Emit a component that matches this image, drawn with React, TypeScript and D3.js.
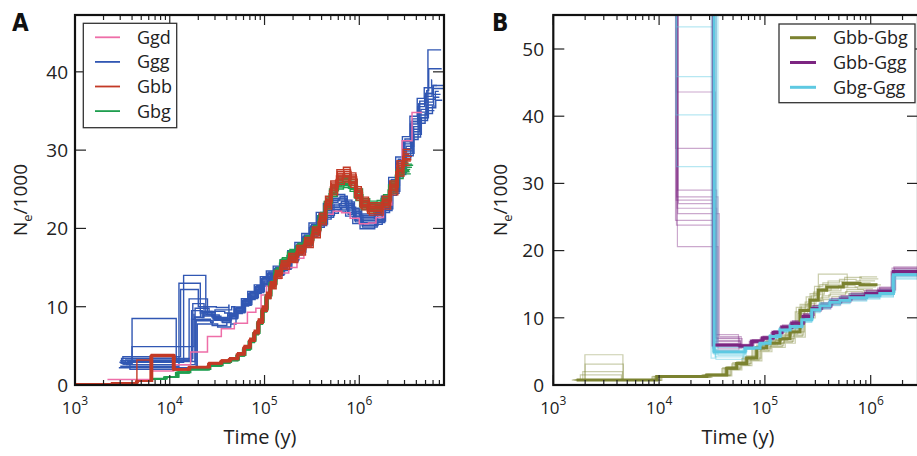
import React from 'react';
import * as d3 from 'd3';

type Pt = [number, number];
type Rep = { vf: number; tf: number; end: number; patches?: Pt[][] };

// ---------------- Panel A data ----------------
const seriesA = ['Ggd', 'Ggg', 'Gbb', 'Gbg'];
const colorsA = ['#ee6ea8', '#3157b3', '#c33a26', '#1f9e4f'];

const ggdMain: Pt[] = [
  [2.2e3, 0.7], [6.3e3, 1.8], [1.1e4, 2.6], [1.66e4, 4.2], [2.5e4, 6.2], [3.5e4, 7.2],
  [4.8e4, 7.9], [6.6e4, 9.3], [8.1e4, 9.8], [9.2e4, 11.5], [1.05e5, 12.6], [1.25e5, 13.6],
  [1.5e5, 14.3], [1.8e5, 15.0], [2.2e5, 16.2], [2.6e5, 17.6], [3.1e5, 19.2], [3.7e5, 20.8],
  [4.4e5, 21.8], [5.3e5, 22.2], [6.5e5, 22.0], [8.0e5, 21.3], [1.0e6, 20.6], [1.25e6, 20.7],
  [1.5e6, 21.4], [1.8e6, 23.0], [2.2e6, 25.6], [2.5e6, 28.0], [2.83e6, 31.2], [3.6e6, 34.8],
];
const ggdEnd = 4.6e6;

const gggMain: Pt[] = [
  [3.1e3, 2.8], [1.75e4, 9.0], [2.2e4, 9.3], [2.9e4, 8.6], [3.5e4, 8.3], [4.3e4, 8.8],
  [5.0e4, 9.6], [6.0e4, 10.6], [7.0e4, 11.5], [8.2e4, 12.3], [9.5e4, 13.3], [1.1e5, 14.0],
  [1.3e5, 14.6], [1.55e5, 15.4], [1.85e5, 16.5], [2.2e5, 17.5], [2.6e5, 18.6], [3.1e5, 19.9],
  [3.7e5, 21.2], [4.4e5, 22.3], [5.2e5, 23.1], [6.2e5, 23.4], [7.4e5, 22.7], [8.8e5, 21.7],
  [1.05e6, 21.0], [1.25e6, 21.0], [1.5e6, 21.6], [1.8e6, 23.2], [2.15e6, 25.5], [2.55e6, 28.0],
  [3.0e6, 30.5], [3.6e6, 33.0], [4.3e6, 35.2], [5.1e6, 36.5], [6.1e6, 37.5],
];
const gggReps: Rep[] = [
  { vf: 0.95, tf: 0.97, end: 6.4e6, patches: [[[3.0e3, 2.4], [1.25e4, 13.0], [2.1e4, 9.2], [3.0e4, 9.6], [4.5e4, 10.0]]] },
  { vf: 0.97, tf: 1.02, end: 7.3e6, patches: [[[3.3e3, 2.9], [1.4e4, 14.0], [2.4e4, 9.0]], [[5.3e6, 42.8], [7.2e6, 42.8]]] },
  { vf: 0.99, tf: 0.99, end: 7.2e6, patches: [[[3.1e3, 3.4], [1.75e4, 10.4], [2.3e4, 8.8]]] },
  { vf: 1.0, tf: 1.04, end: 6.9e6, patches: [[[4.0e3, 8.5], [1.17e4, 3.2], [1.7e4, 9.5], [2.2e4, 8.6]]] },
  { vf: 1.01, tf: 0.96, end: 7.8e6, patches: [[[3.6e3, 3.0], [1.85e4, 8.7]]] },
  { vf: 1.03, tf: 1.01, end: 7.4e6, patches: [[[2.9e3, 2.2], [1.9e4, 8.2], [2.8e4, 7.6], [4.0e4, 8.0]], [[5.4e6, 40.4], [7.3e6, 40.4]]] },
  { vf: 0.96, tf: 1.03, end: 6.2e6, patches: [[[4.0e3, 4.9], [1.8e4, 9.0]]] },
  { vf: 1.02, tf: 0.98, end: 7.7e6, patches: [[[3.2e3, 3.6], [1.3e4, 12.2], [2.0e4, 10.0], [3.1e4, 9.9], [4.2e4, 10.2]]] },
  { vf: 0.98, tf: 1.0, end: 7.0e6, patches: [[[3.8e3, 2.0], [1.95e4, 7.8], [3.2e4, 7.4], [4.4e4, 7.8]]] },
  { vf: 1.04, tf: 0.95, end: 5.8e6, patches: [[[3.4e3, 3.2], [1.6e4, 11.0], [2.5e4, 9.0]]] },
  { vf: 0.97, tf: 1.05, end: 7.5e6, patches: [[[3.5e3, 2.6], [1.85e4, 9.8], [2.6e4, 9.4], [3.8e4, 9.2]]] },
  { vf: 1.02, tf: 0.99, end: 6.6e6, patches: [[[3.0e3, 3.1], [1.7e4, 8.4], [2.7e4, 8.0]]] },
];

const gbbMain: Pt[] = [
  [1.0e3, 0.1], [2.5e3, 0.3], [4.5e3, 0.5], [6.4e3, 3.8], [1.1e4, 2.0], [1.6e4, 2.3],
  [2.6e4, 2.8], [3.5e4, 3.1], [4.3e4, 3.4], [5.2e4, 4.0], [6.1e4, 4.9], [7.0e4, 5.8],
  [7.8e4, 6.8], [8.6e4, 8.2], [9.5e4, 9.8], [1.05e5, 11.5], [1.15e5, 12.8], [1.3e5, 14.2],
  [1.5e5, 15.4], [1.8e5, 16.3], [2.2e5, 17.3], [2.65e5, 18.3], [3.2e5, 19.6], [3.8e5, 21.3],
  [4.4e5, 23.4], [5.0e5, 25.3], [5.8e5, 26.7], [6.8e5, 27.0], [8.0e5, 26.3], [9.2e5, 24.6],
  [1.05e6, 23.3], [1.25e6, 22.6], [1.5e6, 22.6], [1.75e6, 23.4], [2.1e6, 25.3], [2.5e6, 27.8],
  [2.9e6, 29.2],
];
const gbbReps: Rep[] = [
  { vf: 0.97, tf: 0.98, end: 3.3e6 },
  { vf: 0.99, tf: 1.0, end: 3.5e6 },
  { vf: 1.01, tf: 1.02, end: 3.4e6 },
  { vf: 1.0, tf: 0.99, end: 3.6e6, patches: [[[1.0e3, 0.1], [4.5e3, 3.2], [6.3e3, 3.8]]] },
  { vf: 1.02, tf: 1.01, end: 3.2e6 },
  { vf: 0.98, tf: 0.97, end: 3.5e6 },
  { vf: 1.0, tf: 1.03, end: 3.3e6 },
  { vf: 1.03, tf: 1.0, end: 3.45e6 },
  { vf: 0.985, tf: 0.99, end: 3.55e6 },
  { vf: 1.01, tf: 1.01, end: 3.35e6 },
  { vf: 0.96, tf: 1.02, end: 3.4e6 },
];

const gbgMain: Pt[] = [
  [6.5e3, 0.8], [9.0e3, 1.0], [1.2e4, 1.6], [1.6e4, 2.0], [2.6e4, 2.5], [3.5e4, 2.9],
  [4.3e4, 3.2], [5.2e4, 3.8], [6.1e4, 4.6], [7.0e4, 5.6], [7.8e4, 6.6], [8.6e4, 8.0],
  [9.5e4, 9.6], [1.05e5, 11.4], [1.15e5, 12.9], [1.3e5, 14.5], [1.5e5, 15.8], [1.8e5, 16.8],
  [2.2e5, 17.6], [2.65e5, 18.5], [3.2e5, 19.8], [3.8e5, 21.4], [4.4e5, 23.2], [5.0e5, 24.8],
  [5.8e5, 25.8], [6.8e5, 26.0], [8.0e5, 25.5], [9.2e5, 24.3], [1.05e6, 23.1], [1.25e6, 22.8],
  [1.5e6, 22.9], [1.75e6, 23.6], [2.1e6, 25.3], [2.5e6, 27.2], [2.9e6, 27.8],
];
const gbgReps: Rep[] = [
  { vf: 0.98, tf: 1.01, end: 3.4e6 },
  { vf: 1.0, tf: 0.98, end: 3.6e6 },
  { vf: 1.02, tf: 1.02, end: 3.3e6 },
  { vf: 0.97, tf: 1.0, end: 3.5e6 },
  { vf: 1.01, tf: 0.97, end: 3.7e6 },
  { vf: 1.03, tf: 1.03, end: 3.25e6 },
  { vf: 0.99, tf: 0.99, end: 3.45e6 },
  { vf: 1.0, tf: 1.04, end: 3.55e6 },
  { vf: 0.985, tf: 0.96, end: 3.35e6 },
  { vf: 1.015, tf: 1.0, end: 3.6e6 },
];

// ---------------- Panel B data ----------------
const seriesB = ['Gbb-Gbg', 'Gbb-Ggg', 'Gbg-Ggg'];
const colorsB = ['#7b8230', '#7c2581', '#5ec9e2'];

const oliveMain: Pt[] = [
  [1.66e3, 0.75], [9.5e3, 1.25], [2.82e4, 1.5], [4.35e4, 2.5], [5.41e4, 3.2], [6.73e4, 4.0],
  [8.36e4, 5.5], [1.04e5, 6.2], [1.39e5, 6.9], [1.73e5, 7.9], [2.15e5, 11.1], [2.67e5, 12.6],
  [3.2e5, 14.1], [3.84e5, 14.6], [5.51e5, 15.1], [7.92e5, 14.9],
];
const oliveEnd = 1.16e6;
const oliveReps: Rep[] = [
  { vf: 0.92, tf: 1.05, end: 1.2e6, patches: [[[1.99e3, 4.5], [4.55e3, 0.8]]] },
  { vf: 0.96, tf: 0.95, end: 1.05e6, patches: [[[2.0e3, 3.1], [4.6e3, 0.8]]] },
  { vf: 1.0, tf: 1.1, end: 1.25e6, patches: [[[1.9e3, 2.0], [4.5e3, 0.7]]] },
  { vf: 1.04, tf: 0.92, end: 1.1e6, patches: [[[1.8e3, 1.5], [4.4e3, 0.8]]] },
  { vf: 1.08, tf: 1.0, end: 1.15e6, patches: [[[3.2e5, 16.5], [6.0e5, 15.2]]] },
  { vf: 0.94, tf: 1.08, end: 1.2e6 },
  { vf: 1.02, tf: 0.97, end: 1.0e6 },
  { vf: 1.06, tf: 1.03, end: 1.18e6 },
  { vf: 0.98, tf: 0.9, end: 1.12e6 },
  { vf: 0.9, tf: 1.12, end: 1.22e6 },
];

const purpleMain: Pt[] = [
  [1.5e3, 150], [3.25e4, 5.95], [5.8e4, 5.8], [7.5e4, 6.5], [9.5e4, 7.0], [1.2e5, 7.8],
  [1.45e5, 8.6], [1.8e5, 9.2], [2.3e5, 10.2], [2.8e5, 11.4], [3.4e5, 11.8], [4.2e5, 12.4],
  [5.2e5, 12.8], [6.5e5, 13.2], [9.0e5, 13.6], [1.2e6, 14.0], [1.64e6, 16.9],
];
const purpleEnd = 4e6;
const purpleReps: Rep[] = [
  { vf: 1.03, tf: 0.97, end: 4e6, patches: [[[1.5e3, 150], [1.46e4, 43.6], [3.4e4, 7.5]]] },
  { vf: 0.98, tf: 1.02, end: 4e6, patches: [[[1.5e3, 150], [1.44e4, 35.2], [3.3e4, 6.8]]] },
  { vf: 1.0, tf: 0.95, end: 4e6, patches: [[[1.5e3, 150], [1.5e4, 29.0], [3.5e4, 6.2]]] },
  { vf: 1.01, tf: 1.04, end: 4e6, patches: [[[1.5e3, 150], [1.47e4, 28.0], [3.6e4, 5.5]]] },
  { vf: 0.97, tf: 0.99, end: 4e6, patches: [[[1.5e3, 150], [1.45e4, 27.5], [3.4e4, 7.0]]] },
  { vf: 1.04, tf: 1.01, end: 4e6, patches: [[[1.5e3, 150], [1.52e4, 27.0], [3.3e4, 6.5]]] },
  { vf: 0.99, tf: 0.96, end: 4e6, patches: [[[1.5e3, 150], [1.48e4, 26.3], [3.5e4, 5.8]]] },
  { vf: 1.02, tf: 1.03, end: 4e6, patches: [[[1.5e3, 150], [1.5e4, 25.5], [3.7e4, 7.2]]] },
  { vf: 0.96, tf: 1.0, end: 4e6, patches: [[[1.5e3, 150], [1.43e4, 24.5], [3.4e4, 6.0]]] },
  { vf: 1.0, tf: 0.98, end: 4e6, patches: [[[1.5e3, 150], [1.46e4, 23.8], [3.3e4, 5.2]]] },
  { vf: 1.03, tf: 1.02, end: 4e6, patches: [[[1.5e3, 150], [1.49e4, 20.6], [3.6e4, 6.6]]] },
  { vf: 0.98, tf: 1.0, end: 4e6, patches: [[[1.5e3, 150], [3.2e4, 5.5]]] },
  { vf: 1.01, tf: 1.05, end: 4e6, patches: [[[1.5e3, 150], [3.45e4, 6.9]]] },
];

const cyanMain: Pt[] = [
  [1.5e3, 150], [3.3e4, 4.9], [6.5e4, 5.5], [9.0e4, 6.2], [1.12e5, 7.2], [1.39e5, 8.2],
  [1.73e5, 8.7], [2.23e5, 9.7], [2.77e5, 11.2], [3.32e5, 11.8], [4.13e5, 12.3], [5.13e5, 12.6],
  [6.37e5, 13.0], [9.16e5, 13.3], [1.22e6, 13.6], [1.64e6, 16.4],
];
const cyanEnd = 4e6;
const cyanReps: Rep[] = [
  { vf: 0.97, tf: 1.0, end: 4e6, patches: [[[1.5e3, 150], [1.45e4, 53.3], [3.3e4, 4.6]]] },
  { vf: 1.03, tf: 0.98, end: 4e6, patches: [[[1.5e3, 150], [1.47e4, 45.9], [3.35e4, 5.2]]] },
  { vf: 1.0, tf: 1.02, end: 4e6, patches: [[[1.5e3, 150], [1.44e4, 40.2], [3.4e4, 4.2]]] },
  { vf: 0.98, tf: 0.97, end: 4e6, patches: [[[1.5e3, 150], [1.46e4, 32.5], [3.25e4, 5.6]]] },
  { vf: 1.02, tf: 1.03, end: 4e6, patches: [[[1.5e3, 150], [3.1e4, 4.0]]] },
  { vf: 0.96, tf: 1.0, end: 4e6, patches: [[[1.5e3, 150], [3.5e4, 5.8]]] },
  { vf: 1.04, tf: 0.99, end: 4e6, patches: [[[1.5e3, 150], [3.6e4, 4.4]]] },
  { vf: 1.0, tf: 1.01, end: 4e6, patches: [[[1.5e3, 150], [3.2e4, 5.0]]] },
  { vf: 0.99, tf: 0.96, end: 4e6, patches: [[[1.5e3, 150], [3.45e4, 3.8]]] },
  { vf: 1.01, tf: 1.04, end: 4e6, patches: [[[1.5e3, 150], [3.3e4, 5.4]]] },
];

// ---------------- axes ----------------
const yTicksA = [0, 10, 20, 30, 40];
const yTicksB = [0, 10, 20, 30, 40, 50];
const xDomainA: [number, number] = [1e3, 7.83e6];
const xDomainB: [number, number] = [1e3, 2.8e6];
const yMaxA = 47.26;
const yMaxB = 55.06;

const FONT = "'Open Sans', 'DejaVu Sans', sans-serif";
const INK = '#222';

function buildRep(main: Pt[], rep: Rep): Pt[] {
  let pts: Pt[] = main.map(([t, v]) => [t * rep.tf, v * rep.vf] as Pt);
  (rep.patches || []).forEach((p) => {
    const a = p[0][0];
    const b = p[p.length - 1][0];
    pts = pts.filter(([t]) => t < a || t > b).concat(p);
  });
  pts.sort((m, n) => m[0] - n[0]);
  pts = pts.filter(([t]) => t < rep.end);
  return pts.concat([[rep.end, pts[pts.length - 1][1]]]);
}
function withEnd(main: Pt[], end: number): Pt[] {
  return main.concat([[end, main[main.length - 1][1]]]);
}

type Box = { x0: number; x1: number; y0: number; y1: number };

function Frame({ x, y, box, yTicks, yLabelEnd }: any) {
  const b: Box = box;
  const all: number[] = x.ticks().filter((t: number) => t >= x.domain()[0] && t <= x.domain()[1]);
  const isMajor = (t: number) => Math.abs(Math.log10(t) - Math.round(Math.log10(t))) < 1e-9;
  return (
    <g>
      {all.map((t, i) => {
        const px = x(t);
        const len = isMajor(t) ? 10 : 5;
        return (
          <g key={'xt' + i} stroke={INK} strokeWidth={1.2}>
            <line x1={px} x2={px} y1={b.y1} y2={b.y1 - len} />
            <line x1={px} x2={px} y1={b.y0} y2={b.y0 + len} />
          </g>
        );
      })}
      {yTicks.map((v: number) => (
        <g key={'yt' + v} stroke={INK} strokeWidth={1.2}>
          <line x1={b.x0} x2={b.x0 + 11} y1={y(v)} y2={y(v)} />
          <line x1={b.x1} x2={b.x1 - 11} y1={y(v)} y2={y(v)} />
        </g>
      ))}
      <rect x={b.x0} y={b.y0} width={b.x1 - b.x0} height={b.y1 - b.y0} fill="none" stroke="#111" strokeWidth={2.2} />
      {all.filter(isMajor).map((t) => (
        <text key={'xl' + t} x={x(t)} y={414} textAnchor="middle" fontSize={17} fill={INK} fontFamily={FONT}>
          10<tspan dy={-9} fontSize={12}>{Math.round(Math.log10(t))}</tspan>
        </text>
      ))}
      {yTicks.map((v: number) => (
        <text key={'yl' + v} x={yLabelEnd} y={y(v)} dy="0.36em" textAnchor="end" fontSize={19} fill={INK} fontFamily={FONT}>
          {v}
        </text>
      ))}
    </g>
  );
}

function AxisTitles({ cx, ylx, cy }: { cx: number; ylx: number; cy: number }) {
  return (
    <g fill={INK} fontFamily={FONT}>
      <text x={cx} y={444} textAnchor="middle" fontSize={20}>Time (y)</text>
      <text transform={`translate(${ylx},${cy}) rotate(-90)`} textAnchor="middle" fontSize={19}>
        N<tspan dy={5} fontSize={13}>e</tspan><tspan dy={-5}>/1000</tspan>
      </text>
    </g>
  );
}

export default function App() {
  const boxA: Box = { x0: 75, x1: 444, y0: 15, y1: 385 };
  const boxB: Box = { x0: 553.3, x1: 918, y0: 15, y1: 385 };

  const xA = d3.scaleLog().domain(xDomainA).range([boxA.x0, boxA.x1]);
  const yA = d3.scaleLinear().domain([0, yMaxA]).range([boxA.y1, boxA.y0]);
  const xB = d3.scaleLog().domain(xDomainB).range([boxB.x0, boxB.x1]);
  const yB = d3.scaleLinear().domain([0, yMaxB]).range([boxB.y1, boxB.y0]);

  const lineA = d3.line<Pt>().x((d) => xA(d[0])).y((d) => yA(d[1])).curve(d3.curveStepAfter);
  const lineB = d3.line<Pt>().x((d) => xB(d[0])).y((d) => yB(d[1])).curve(d3.curveStepAfter);

  const repWA = 1.4;
  const repWB = 1.2;

  return (
    <svg width={917} height={456} style={{ position: 'absolute', left: 0, top: 0, background: '#fff' }}>
      <defs>
        <clipPath id="clipA">
          <rect x={boxA.x0} y={boxA.y0} width={boxA.x1 - boxA.x0} height={boxA.y1 - boxA.y0} />
        </clipPath>
        <clipPath id="clipB">
          <rect x={boxB.x0} y={boxB.y0} width={boxB.x1 - boxB.x0} height={boxB.y1 - boxB.y0} />
        </clipPath>
      </defs>
      <rect x={0} y={0} width={917} height={456} fill="#fff" />

      {/* Panel A */}
      <g clipPath="url(#clipA)" fill="none">
        {gggReps.map((r, i) => (
          <path key={'ggg' + i} d={lineA(buildRep(gggMain, r)) || ''} stroke={colorsA[1]} strokeWidth={repWA} />
        ))}
        <path d={lineA(withEnd(ggdMain, ggdEnd)) || ''} stroke={colorsA[0]} strokeWidth={1.5} />
        {gbgReps.map((r, i) => (
          <path key={'gbg' + i} d={lineA(buildRep(gbgMain, r)) || ''} stroke={colorsA[3]} strokeWidth={repWA} />
        ))}
        {gbbReps.map((r, i) => (
          <path key={'gbb' + i} d={lineA(buildRep(gbbMain, r)) || ''} stroke={colorsA[2]} strokeWidth={repWA} />
        ))}
      </g>
      <Frame x={xA} y={yA} box={boxA} yTicks={yTicksA} yLabelEnd={68} />
      <AxisTitles cx={260} ylx={27} cy={200} />
      <text x={12} y={31} fontSize={24} fontWeight="bold" fontFamily="'DejaVu Sans Condensed', 'DejaVu Sans', sans-serif" fill="#111">A</text>
      <g>
        <rect x={83.3} y={23.3} width={93.4} height={104.4} fill="#fff" stroke="#333" strokeWidth={1.3} />
        {seriesA.map((s, i) => (
          <g key={s}>
            <line x1={95} x2={120} y1={37.3 + i * 24.6} y2={37.3 + i * 24.6} stroke={colorsA[i]} strokeWidth={1.8} />
            <text x={137} y={37.3 + i * 24.6} dy="0.36em" fontSize={18} fill={INK} fontFamily={FONT}>{s}</text>
          </g>
        ))}
      </g>

      {/* Panel B */}
      <g clipPath="url(#clipB)" fill="none">
        {oliveReps.map((r, i) => (
          <path key={'ol' + i} d={lineB(buildRep(oliveMain, r)) || ''} stroke={colorsB[0]} strokeOpacity={0.4} strokeWidth={repWB} />
        ))}
        {purpleReps.map((r, i) => (
          <path key={'pu' + i} d={lineB(buildRep(purpleMain, r)) || ''} stroke={colorsB[1]} strokeOpacity={0.4} strokeWidth={repWB} />
        ))}
        {cyanReps.map((r, i) => (
          <path key={'cy' + i} d={lineB(buildRep(cyanMain, r)) || ''} stroke={colorsB[2]} strokeOpacity={0.45} strokeWidth={repWB} />
        ))}
        <path d={lineB(withEnd(oliveMain, oliveEnd)) || ''} stroke={colorsB[0]} strokeWidth={3} />
        <path d={lineB(withEnd(purpleMain, purpleEnd)) || ''} stroke={colorsB[1]} strokeWidth={3} />
        <path d={lineB(withEnd(cyanMain, cyanEnd)) || ''} stroke={colorsB[2]} strokeWidth={3} />
      </g>
      <Frame x={xB} y={yB} box={boxB} yTicks={yTicksB} yLabelEnd={544} />
      <AxisTitles cx={738} ylx={507} cy={200} />
      <text x={492} y={31} fontSize={24} fontWeight="bold" fontFamily="'DejaVu Sans Condensed', 'DejaVu Sans', sans-serif" fill="#111">B</text>
      <g>
        <rect x={779} y={24} width={136} height={78.7} fill="#fff" stroke="#333" strokeWidth={1.3} />
        {seriesB.map((s, i) => (
          <g key={s}>
            <line x1={790} x2={816} y1={37.7 + i * 24.8} y2={37.7 + i * 24.8} stroke={colorsB[i]} strokeWidth={3} />
            <text x={833} y={37.7 + i * 24.8} dy="0.36em" fontSize={18} fill={INK} fontFamily={FONT}>{s}</text>
          </g>
        ))}
      </g>
    </svg>
  );
}
